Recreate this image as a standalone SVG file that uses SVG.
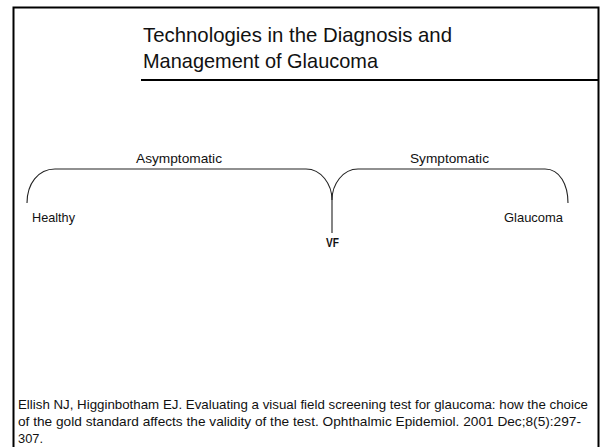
<svg xmlns="http://www.w3.org/2000/svg" width="602" height="447" viewBox="0 0 602 447">
  <style>
    .frame { fill: none; stroke: #000; stroke-width: 2; }
    .brace { fill: none; stroke: #222; stroke-width: 1.1; }
    text { font-family: "Liberation Sans", Arial, sans-serif; fill: #111; }
    .title { font-size: 21px; }
    .label { font-size: 13.5px; }
    .ref { font-size: 13.5px; }
    .bold { font-weight: bold; }
  </style>
  <rect width="602" height="447" fill="#fff"/>

  <!-- slide frame and title rule -->
  <path class="frame" d="M13.5,449 V7.5 H598.5 V449"/>
  <line class="frame" x1="141" y1="80" x2="598" y2="80"/>

  <g id="title">
    <text class="title" x="143" y="42" textLength="309" lengthAdjust="spacingAndGlyphs">Technologies in the Diagnosis and</text>
    <text class="title" x="143" y="68" textLength="235" lengthAdjust="spacingAndGlyphs">Management of Glaucoma</text>
  </g>

  <!-- braces spanning the two phases -->
  <g id="connectors">
    <path class="brace" d="M27,203 C27,184 38,169 55,169 H306 C321,169 332,184 332,200 V233"/>
    <path class="brace" d="M332,200 C332,184 343,169 358,169 H545 C560,169 568,185 568,203"/>
  </g>

  <g id="asymptomatic">
    <text class="label" x="136" y="163" textLength="86" lengthAdjust="spacingAndGlyphs">Asymptomatic</text>
  </g>
  <g id="symptomatic">
    <text class="label" x="410" y="163" textLength="79" lengthAdjust="spacingAndGlyphs">Symptomatic</text>
  </g>
  <g id="healthy">
    <text class="label" x="32" y="222" textLength="43" lengthAdjust="spacingAndGlyphs">Healthy</text>
  </g>
  <g id="glaucoma">
    <text class="label" x="504" y="222" textLength="59" lengthAdjust="spacingAndGlyphs">Glaucoma</text>
  </g>
  <g id="vf">
    <text class="label bold" x="326" y="247" textLength="13" lengthAdjust="spacingAndGlyphs">VF</text>
  </g>

  <g id="reference">
    <text class="ref" x="18" y="409" textLength="570" lengthAdjust="spacingAndGlyphs">Ellish NJ, Higginbotham EJ. Evaluating a visual field screening test for glaucoma: how the choice</text>
    <text class="ref" x="18" y="426" textLength="563" lengthAdjust="spacingAndGlyphs">of the gold standard affects the validity of the test. Ophthalmic Epidemiol. 2001 Dec;8(5):297-</text>
    <text class="ref" x="18" y="443" textLength="25" lengthAdjust="spacingAndGlyphs">307.</text>
  </g>
</svg>
